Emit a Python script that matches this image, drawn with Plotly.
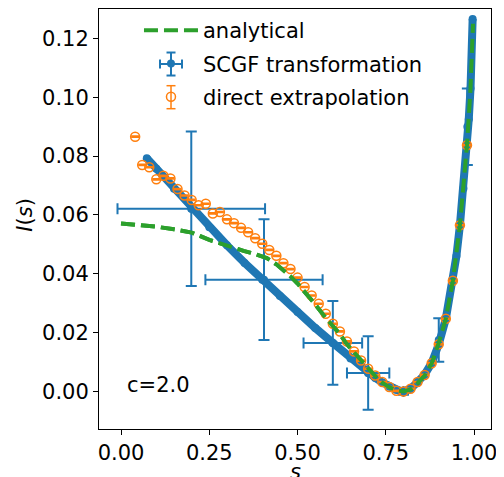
import plotly.graph_objects as go

# ---- data ----
# SCGF transformation (dense curve of points)
scgf_s = [0.073, 0.10, 0.15, 0.20, 0.25, 0.30, 0.35, 0.40, 0.45, 0.50, 0.55, 0.60,
          0.65, 0.70, 0.72, 0.74, 0.76, 0.78, 0.79, 0.80, 0.81, 0.82, 0.84, 0.86,
          0.88, 0.90, 0.92, 0.94, 0.95, 0.96, 0.97, 0.98, 0.985, 0.99, 0.996]
scgf_I = [0.0793, 0.0757, 0.0689, 0.0621, 0.0558, 0.0497, 0.0437, 0.0380, 0.0324,
          0.0270, 0.0216, 0.0165, 0.0112, 0.0063, 0.0046, 0.0030, 0.0016, 0.0005,
          0.0002, 0.0000, 0.0003, 0.0009, 0.0032, 0.0057, 0.0097, 0.0160, 0.0247,
          0.0376, 0.0460, 0.0565, 0.0690, 0.0837, 0.0925, 0.1030, 0.1266]

# SCGF points carrying visible error bars
scgf_err_s = [0.199, 0.405, 0.600, 0.700, 0.800, 0.900, 0.981]
scgf_err_I = [0.0621, 0.0380, 0.0165, 0.0063, 0.0000, 0.0175, 0.0900]
scgf_err_sx = [0.209, 0.166, 0.083, 0.060, 0.0, 0.0, 0.0]
scgf_err_Iy = [0.0263, 0.0205, 0.0142, 0.0125, 0.0011, 0.0074, 0.0130]

# direct extrapolation
direct_s = [0.04, 0.06, 0.08, 0.10, 0.12, 0.14, 0.16, 0.18, 0.20, 0.22, 0.24, 0.26,
            0.28, 0.30, 0.32, 0.34, 0.36, 0.38, 0.40, 0.42, 0.44, 0.46, 0.48, 0.50,
            0.52, 0.54, 0.56, 0.58, 0.60, 0.62, 0.64, 0.66, 0.68, 0.70, 0.72, 0.74,
            0.76, 0.78, 0.80, 0.82, 0.84, 0.86, 0.88, 0.90, 0.92, 0.94, 0.96, 0.98]
direct_I = [0.0866, 0.0770, 0.0762, 0.0721, 0.0733, 0.0724, 0.0688, 0.0666, 0.0651,
            0.0633, 0.0638, 0.0605, 0.0610, 0.0585, 0.0572, 0.0556, 0.0541, 0.0521,
            0.0502, 0.0481, 0.0461, 0.0436, 0.0416, 0.0387, 0.0355, 0.0326, 0.0298,
            0.0264, 0.0230, 0.0204, 0.0170, 0.0136, 0.0105, 0.0077, 0.0054, 0.0032,
            0.0015, 0.0002, 0.0000, 0.0009, 0.0032, 0.0056, 0.0096, 0.0160, 0.0247,
            0.0376, 0.0565, 0.0837]
direct_err = [0.0002] * len(direct_s)

# analytical
ana_s = [0.0, 0.05, 0.10, 0.15, 0.20, 0.25, 0.30, 0.32, 0.347, 0.38, 0.413, 0.44,
         0.46, 0.48, 0.50, 0.52, 0.55, 0.58, 0.60, 0.62, 0.64, 0.66, 0.68, 0.70,
         0.72, 0.74, 0.76, 0.78, 0.80, 0.82, 0.84, 0.86, 0.88, 0.90, 0.92, 0.94,
         0.96, 0.98, 0.99, 0.997]
ana_I = [0.0571, 0.0567, 0.0560, 0.0551, 0.0540, 0.0515, 0.0495, 0.0486, 0.0478,
         0.0467, 0.0453, 0.0432, 0.0412, 0.0391, 0.0367, 0.0340, 0.0296, 0.0250,
         0.0222, 0.0195, 0.0160, 0.0133, 0.0106, 0.0077, 0.0052, 0.0030, 0.0014,
         0.0004, 0.0000, 0.0007, 0.0028, 0.0054, 0.0095, 0.0165, 0.0247, 0.0376,
         0.0565, 0.0837, 0.1030, 0.1250]

x_tick_vals = [0.0, 0.25, 0.5, 0.75, 1.0]
x_tick_text = ["0.00", "0.25", "0.50", "0.75", "1.00"]
y_tick_vals = [0.0, 0.02, 0.04, 0.06, 0.08, 0.10, 0.12]
y_tick_text = ["0.00", "0.02", "0.04", "0.06", "0.08", "0.10", "0.12"]

BLUE = "#1f77b4"
ORANGE = "#ff7f0e"
GREEN = "#2ca02c"
FONT = "DejaVu Sans"
FS = 21

fig = go.Figure()

fig.add_trace(go.Scatter(
    x=ana_s, y=ana_I, mode="lines", name="analytical",
    line=dict(color=GREEN, width=4, dash="14px,6px"),
    legendgroup="a", legendrank=1))

fig.add_trace(go.Scatter(
    x=scgf_s, y=scgf_I, mode="lines+markers", showlegend=False,
    line=dict(color=BLUE, width=8), marker=dict(color=BLUE, size=8),
    hoverinfo="skip"))

fig.add_trace(go.Scatter(
    x=scgf_err_s, y=scgf_err_I, mode="markers", name="SCGF transformation",
    marker=dict(color=BLUE, size=8),
    error_x=dict(type="data", array=scgf_err_sx, color=BLUE, thickness=2, width=5.5),
    error_y=dict(type="data", array=scgf_err_Iy, color=BLUE, thickness=2, width=5.5),
    legendgroup="b", legendrank=2))

fig.add_trace(go.Scatter(
    x=direct_s, y=direct_I, mode="markers", name="direct extrapolation",
    marker=dict(symbol="circle-open", color=ORANGE, size=9, line=dict(width=1.5, color=ORANGE)),
    error_y=dict(type="data", array=direct_err, color=ORANGE, thickness=1.5, width=4),
    legendgroup="c", legendrank=3))

# dashed analytical line drawn again over the blue band
fig.add_trace(go.Scatter(
    x=ana_s, y=ana_I, mode="lines", showlegend=False,
    line=dict(color=GREEN, width=4, dash="14px,6px"), hoverinfo="skip"))

axis_common = dict(
    showline=True, linecolor="black", linewidth=1, mirror=True,
    ticks="outside", ticklen=5, tickwidth=1, tickcolor="black",
    showgrid=False, zeroline=False,
    tickfont=dict(family=FONT, size=FS, color="black"),
)


# error-bar glyphs for the legend icons (plotly legends show only the marker)
def legend_errbar(cx, cy, color, width, hx, hy, cap):
    out = []
    base = dict(type="line", xref="paper", yref="paper", xsizemode="pixel",
                ysizemode="pixel", xanchor=cx, yanchor=cy,
                line=dict(color=color, width=width), layer="above")
    if hy:
        out.append(dict(base, x0=0, x1=0, y0=-hy, y1=hy))
        out.append(dict(base, x0=-cap, x1=cap, y0=hy, y1=hy))
        out.append(dict(base, x0=-cap, x1=cap, y0=-hy, y1=-hy))
    if hx:
        out.append(dict(base, x0=-hx, x1=hx, y0=0, y1=0))
        out.append(dict(base, x0=hx, x1=hx, y0=-cap, y1=cap))
        out.append(dict(base, x0=-hx, x1=-hx, y0=-cap, y1=cap))
    return out


shapes = (legend_errbar(0.1837, 0.869, BLUE, 2, 11, 11.5, 4.5)
          + legend_errbar(0.1837, 0.790, ORANGE, 1.5, 0, 11.5, 4.5))

# page body has an 8px default margin: the figure is offset by 8px right/down
fig.update_layout(
    width=496, height=469, autosize=False,
    margin=dict(l=91, r=13, t=1, b=48, pad=0),
    plot_bgcolor="white", paper_bgcolor="white",
    font=dict(family=FONT, size=FS, color="black"),
    xaxis=dict(range=[-0.0624, 1.048], tickvals=x_tick_vals, ticktext=x_tick_text, **axis_common),
    yaxis=dict(range=[-0.01277, 0.1300], tickvals=y_tick_vals, ticktext=y_tick_text, **axis_common),
    legend=dict(x=0.102, y=0.9976, xanchor="left", yanchor="top",
                bgcolor="rgba(0,0,0,0)", borderwidth=0,
                font=dict(family=FONT, size=FS, color="black"),
                itemwidth=54, traceorder="grouped", tracegroupgap=3),
    showlegend=True,
    shapes=shapes,
    annotations=[
        dict(text="c=2.0", xref="paper", yref="paper", x=0.066, y=0.105,
             xanchor="left", yanchor="middle", showarrow=False,
             font=dict(family=FONT, size=FS, color="black")),
        dict(text="<i>I</i>(<i>s</i>)", xref="paper", yref="paper", x=-0.189, y=0.51,
             xanchor="center", yanchor="middle", textangle=-90, showarrow=False,
             font=dict(family=FONT, size=FS, color="black")),
        dict(text="<i>s</i>", xref="paper", yref="paper", x=0.5, y=-0.068,
             xanchor="center", yanchor="top", showarrow=False,
             font=dict(family=FONT, size=FS, color="black")),
    ],
)

fig.write_html("out.html")
